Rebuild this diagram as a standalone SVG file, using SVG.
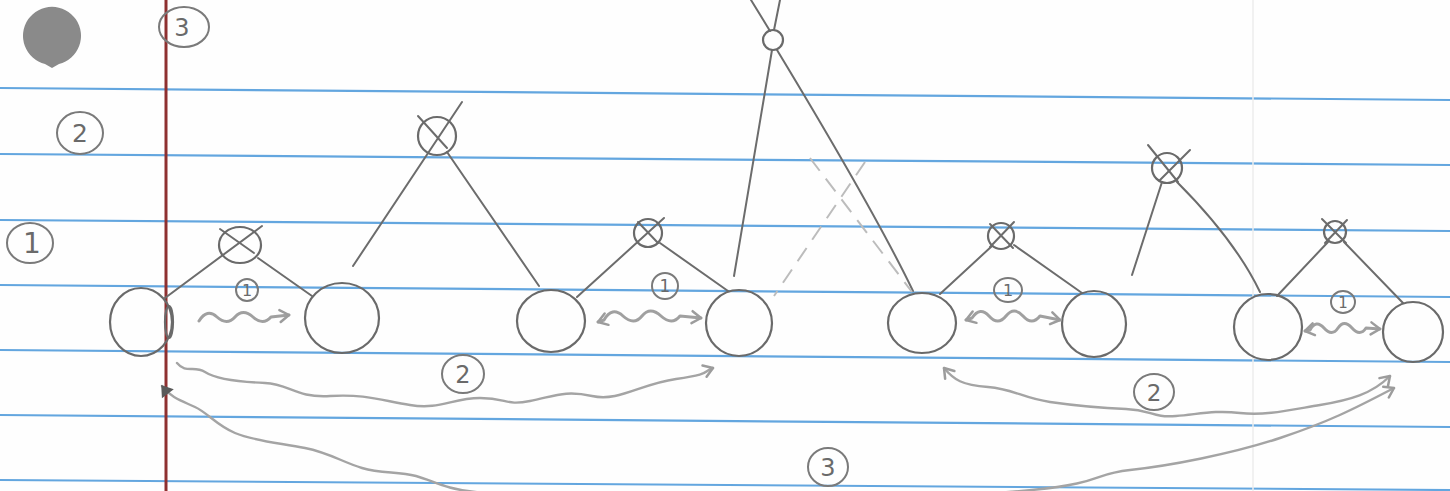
<svg xmlns="http://www.w3.org/2000/svg" width="1450" height="491" viewBox="0 0 1450 491">
<defs>
<style>
.rule{stroke:#63a6df;stroke-width:2.2;fill:none}
.node{fill:none;stroke:#6a6a6a;stroke-width:2.2}
.edge{fill:none;stroke:#6c6c6c;stroke-width:2;stroke-linecap:round}
.dash{fill:none;stroke:#bcbcbc;stroke-width:2;stroke-dasharray:16 10}
.wave{fill:none;stroke:#a0a0a0;stroke-width:3;stroke-linecap:round;stroke-linejoin:round}
.long{fill:none;stroke:#a4a4a4;stroke-width:2.4;stroke-linecap:round;stroke-linejoin:round}
.ring{fill:none;stroke:#7a7a7a;stroke-width:2}
.lbl{font-family:"DejaVu Sans",sans-serif;fill:#6a6a6a;text-anchor:middle}
</style>
<marker id="ah" markerUnits="userSpaceOnUse" markerWidth="16" markerHeight="14" refX="11" refY="7" orient="auto-start-reverse" overflow="visible">
<path d="M2,1 L11,7 L2,13" fill="none" stroke="#9c9c9c" stroke-width="2.5" stroke-linecap="round" stroke-linejoin="round"/>
</marker>
<marker id="ahd" markerUnits="userSpaceOnUse" markerWidth="14" markerHeight="14" refX="10" refY="7" orient="auto-start-reverse" overflow="visible">
<path d="M1,1 L10,7 L1,13 Z" fill="#5a5a5a" stroke="#5a5a5a" stroke-width="1.5"/>
</marker>
</defs>
<rect width="1450" height="491" fill="#fefefe"/>
<g id="paper">
<line class="rule" x1="0" y1="88" x2="1450" y2="100"/>
<line class="rule" x1="0" y1="154" x2="1450" y2="165"/>
<line class="rule" x1="0" y1="220" x2="1450" y2="231"/>
<line class="rule" x1="0" y1="285" x2="1450" y2="297"/>
<line class="rule" x1="0" y1="350" x2="1450" y2="362"/>
<line class="rule" x1="0" y1="415" x2="1450" y2="427"/>
<line class="rule" x1="0" y1="480" x2="1450" y2="490"/>
<line x1="1253" y1="0" x2="1253" y2="491" stroke="#ededed" stroke-width="1.5"/>
<line x1="166" y1="0" x2="166" y2="491" stroke="#8e3030" stroke-width="3"/>
<path d="M52,68 L45,64 A29,29 0 1 1 59,64 Z" fill="#8a8a8a"/>
</g>
<g id="level-labels">
<ellipse class="ring" cx="184" cy="27" rx="25" ry="20"/>
<text class="lbl" x="182" y="36" font-size="24">3</text>
<ellipse class="ring" cx="80" cy="133" rx="23" ry="21"/>
<text class="lbl" x="80" y="142" font-size="25">2</text>
<ellipse class="ring" cx="30" cy="243" rx="23" ry="20"/>
<text class="lbl" x="32" y="253" font-size="28">1</text>
</g>
<g id="edges">
<path class="edge" d="M262,226 L165,298"/>
<path class="edge" d="M220,229 L254,253"/>
<path class="edge" d="M258,258 L312,296"/>
<path class="edge" d="M462,102 L353,266"/>
<path class="edge" d="M418,116 L447,148"/>
<path class="edge" d="M447,152 L539,286"/>
<path class="edge" d="M664,218 L577,297"/>
<path class="edge" d="M638,222 L658,243"/>
<path class="edge" d="M660,243 L728,291"/>
<path class="edge" d="M751,0 L770,31"/>
<path class="edge" d="M780,0 L774,30"/>
<path class="edge" d="M772,50 L734,276"/>
<path class="edge" d="M777,50 Q875,212 913,291"/>
<path class="dash" d="M865,162 L774,296"/>
<path class="dash" d="M810,158 L912,292"/>
<path class="edge" d="M990,224 L1013,248"/>
<path class="edge" d="M1014,222 L990,247"/>
<path class="edge" d="M992,246 L940,294"/>
<path class="edge" d="M1014,245 L1082,293"/>
<path class="edge" d="M1148,145 L1178,182"/>
<path class="edge" d="M1190,150 L1160,180"/>
<path class="edge" d="M1162,182 L1132,275"/>
<path class="edge" d="M1177,182 Q1235,240 1260,292"/>
<path class="edge" d="M1322,219 L1346,243"/>
<path class="edge" d="M1347,220 L1325,243"/>
<path class="edge" d="M1328,242 L1277,296"/>
<path class="edge" d="M1344,242 L1403,303"/>
</g>
<g id="internal-nodes">
<ellipse id="nA" class="node" cx="240" cy="245" rx="21" ry="18"/>
<circle id="nE" class="node" cx="437" cy="136" r="19"/>
<circle id="nB" class="node" cx="648" cy="233" r="14"/>
<circle id="nG" class="node" cx="773" cy="40" r="10"/>
<circle id="nC" class="node" cx="1001" cy="236" r="13"/>
<circle id="nF" class="node" cx="1167" cy="168" r="15"/>
<circle id="nD" class="node" cx="1335" cy="232" r="11"/>
</g>
<g id="leaf-nodes">
<g id="n1"><ellipse class="node" cx="141" cy="322" rx="31" ry="34"/><ellipse class="node" cx="169" cy="322" rx="4" ry="16"/></g>
<g id="n2"><ellipse class="node" cx="342" cy="318" rx="37" ry="35"/></g>
<g id="n3"><ellipse class="node" cx="551" cy="321" rx="34" ry="31"/></g>
<g id="n4"><ellipse class="node" cx="739" cy="323" rx="33" ry="33"/></g>
<g id="n5"><ellipse class="node" cx="922" cy="323" rx="34" ry="30"/></g>
<g id="n6"><ellipse class="node" cx="1094" cy="324" rx="32" ry="33"/></g>
<g id="n7"><ellipse class="node" cx="1268" cy="327" rx="34" ry="33"/></g>
<g id="n8"><ellipse class="node" cx="1413" cy="332" rx="30" ry="30"/></g>
</g>
<g id="connectors">
<path class="wave" d="M199,321 q8,-13 18,-4 t18,0 t18,0 t18,0 l18,-2" marker-end="url(#ah)"/>
<path class="wave" d="M598,322 l6,-2 q8,-14 19,-4 t19,0 t19,0 t19,0 l21,2" marker-start="url(#ah)" marker-end="url(#ah)"/>
<path class="wave" d="M966,320 l6,-2 q8,-12 17,-2 t17,0 t17,0 t17,0 l20,4" marker-start="url(#ah)" marker-end="url(#ah)"/>
<path class="wave" d="M1305,331 l5,-1 q6,-11 14,-2 t14,0 t14,0 t14,0 l14,1" marker-start="url(#ah)" marker-end="url(#ah)"/>
<path class="long" d="M177,363 C186,374 194,365 205,372 S240,382 265,383 S295,398 330,396 S380,400 410,405 S452,398 480,398 S505,406 530,401 S565,390 592,396 S640,384 676,379 S702,372 713,368" marker-end="url(#ah)"/>
<path class="long" d="M944,368 C954,380 962,385 988,387 S1022,398 1050,402 S1100,408 1126,409 S1152,418 1176,416 S1215,410 1240,413 S1290,410 1320,405 S1372,394 1390,376" marker-start="url(#ah)" marker-end="url(#ah)"/>
<path class="long" d="M162,386 C171,398 182,401 195,407 S216,425 235,433 S280,443 305,448 S342,462 362,468 S398,471 416,476 S445,489 475,492 S620,498 760,497 S960,497 1032,490 S1092,474 1130,470 S1232,454 1280,438 S1352,410 1394,388" marker-start="url(#ahd)" marker-end="url(#ah)"/>
</g>
<g id="connector-labels">
<circle class="ring" cx="247" cy="290" r="11"/>
<text class="lbl" x="247" y="296" font-size="16">1</text>
<circle class="ring" cx="665" cy="286" r="13"/>
<text class="lbl" x="665" y="292" font-size="17">1</text>
<ellipse class="ring" cx="1008" cy="290" rx="14" ry="12"/>
<text class="lbl" x="1008" y="296" font-size="16">1</text>
<ellipse class="ring" cx="1343" cy="302" rx="12" ry="11"/>
<text class="lbl" x="1343" y="308" font-size="15">1</text>
<ellipse class="ring" cx="463" cy="374" rx="21" ry="19"/>
<text class="lbl" x="463" y="383" font-size="24">2</text>
<ellipse class="ring" cx="1154" cy="392" rx="20" ry="18"/>
<text class="lbl" x="1154" y="401" font-size="23">2</text>
<ellipse class="ring" cx="828" cy="467" rx="20" ry="19"/>
<text class="lbl" x="828" y="476" font-size="24">3</text>
</g>
</svg>
